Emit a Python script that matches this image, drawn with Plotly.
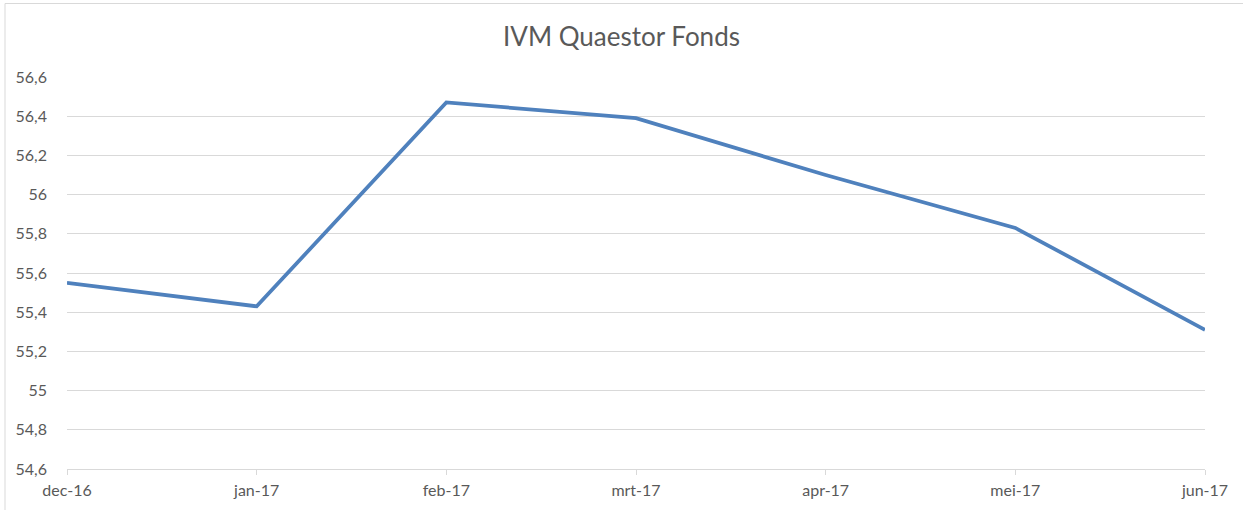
import plotly.graph_objects as go

months = ["dec-16", "jan-17", "feb-17", "mrt-17", "apr-17", "mei-17", "jun-17"]
values = [55.55, 55.43, 56.47, 56.39, 56.10, 55.83, 55.31]
title = "IVM Quaestor Fonds"

W, H = 1243, 510
L, R, T, B = 67, 38, 77, 41
pw, ph = W - L - R, H - T - B

fig = go.Figure()
fig.add_trace(go.Scatter(
    x=months, y=values, mode="lines",
    line=dict(color="#4f81bd", width=3.75),
    hoverinfo="x+y", showlegend=False,
))

font_family = "Lato, 'Open Sans', sans-serif"
fig.update_layout(
    width=W, height=H,
    margin=dict(l=L, r=R, t=T, b=B, pad=0),
    paper_bgcolor="white", plot_bgcolor="white",
    separators=",.",
    title=dict(text=title, x=0.5, xanchor="center", y=1 - 37 / H, yanchor="middle",
               font=dict(family=font_family, size=26, color="#595959")),
    xaxis=dict(type="category", range=[0, 6], showgrid=False,
               showline=True, linecolor="#d9d9d9", linewidth=1,
               ticks="outside", ticklen=5, tickcolor="#d9d9d9", tickwidth=1,
               tickfont=dict(family=font_family, size=16, color="#595959"),
               ticklabelstandoff=2, zeroline=False, fixedrange=True),
    yaxis=dict(range=[54.6, 56.6], dtick=0.2, tick0=54.6, showgrid=True,
               gridcolor="#d9d9d9", gridwidth=1, showline=False, ticks="",
               tickfont=dict(family=font_family, size=16, color="#595959"),
               ticklabelstandoff=19, zeroline=False, fixedrange=True),
    shapes=[
        dict(type="line", xref="paper", yref="paper",
             x0=(5 - L) / pw, x1=(5 - L) / pw, y0=1 + (T - 3.5) / ph, y1=-(B + 5) / ph,
             line=dict(color="#d9d9d9", width=1)),
        dict(type="line", xref="paper", yref="paper",
             x0=(5 - L) / pw, x1=1 + (R + 5) / pw, y0=1 + (T - 3.5) / ph, y1=1 + (T - 3.5) / ph,
             line=dict(color="#d9d9d9", width=1)),
    ],
)

fig.write_html("out.html", config={"displayModeBar": False},
               post_script="document.body.style.margin='0';")
